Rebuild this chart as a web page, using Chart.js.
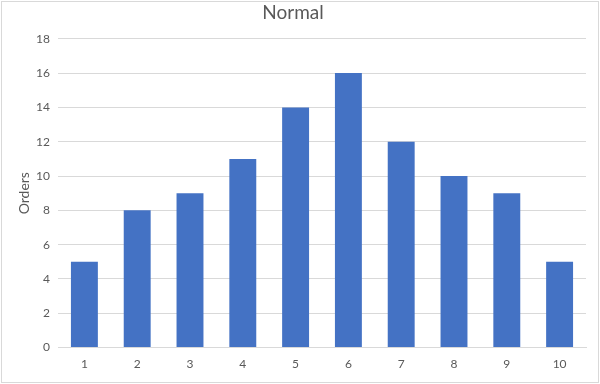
<!DOCTYPE html>
<html>
<head>
<meta charset="utf-8">
<script src="https://cdn.jsdelivr.net/npm/chart.js@4/dist/chart.umd.min.js"></script>
<style>
  html, body { margin: 0; padding: 0; background: #fff; }
  #wrap { width: 600px; height: 384px; position: relative; }
</style>
</head>
<body>
<div id="wrap"><canvas id="chart" width="600" height="384"></canvas></div>
<script>
const categories = ['1', '2', '3', '4', '5', '6', '7', '8', '9', '10'];
const orders = [5, 8, 9, 11, 14, 16, 12, 10, 9, 5];

const greyText = '#595959';
const gridColor = '#d9d9d9';

// frame around the whole chart
const frame = {
  id: 'frame',
  beforeDraw(chart) {
    const c = chart.ctx;
    c.save();
    c.fillStyle = '#fff';
    c.fillRect(0, 0, chart.width, chart.height);
    c.strokeStyle = gridColor;
    c.lineWidth = 1;
    c.strokeRect(1.5, 1.5, chart.width - 3, chart.height - 3);
    c.restore();
  }
};

new Chart(document.getElementById('chart').getContext('2d'), {
  type: 'bar',
  data: {
    labels: categories,
    datasets: [{
      label: 'Orders',
      data: orders,
      backgroundColor: '#4472c4',
      barPercentage: 1,
      categoryPercentage: 0.51
    }]
  },
  options: {
    responsive: false,
    animation: false,
    layout: { padding: { top: 0, right: 14, bottom: 4, left: 0 } },
    plugins: {
      legend: { display: false },
      tooltip: { enabled: false },
      title: {
        display: true,
        text: 'Normal',
        color: greyText,
        font: { family: 'Lato', size: 19, weight: 'normal' },
        padding: { top: 1, bottom: 15 }
      }
    },
    scales: {
      x: {
        grid: { display: false, drawTicks: false },
        border: { color: gridColor },
        ticks: { color: greyText, font: { family: 'Lato', size: 12 }, padding: 9 }
      },
      y: {
        min: 0,
        max: 18,
        afterFit(scale) { scale.width = 58; },
        grid: { color: gridColor, drawTicks: false },
        border: { display: false },
        ticks: { stepSize: 2, color: greyText, font: { family: 'Lato', size: 12 }, padding: 8 },
        title: {
          display: true,
          text: 'Orders',
          color: greyText,
          font: { family: 'Lato', size: 14 },
          padding: { top: 16, bottom: 2 }
        }
      }
    }
  },
  plugins: [frame]
});
</script>
</body>
</html>
